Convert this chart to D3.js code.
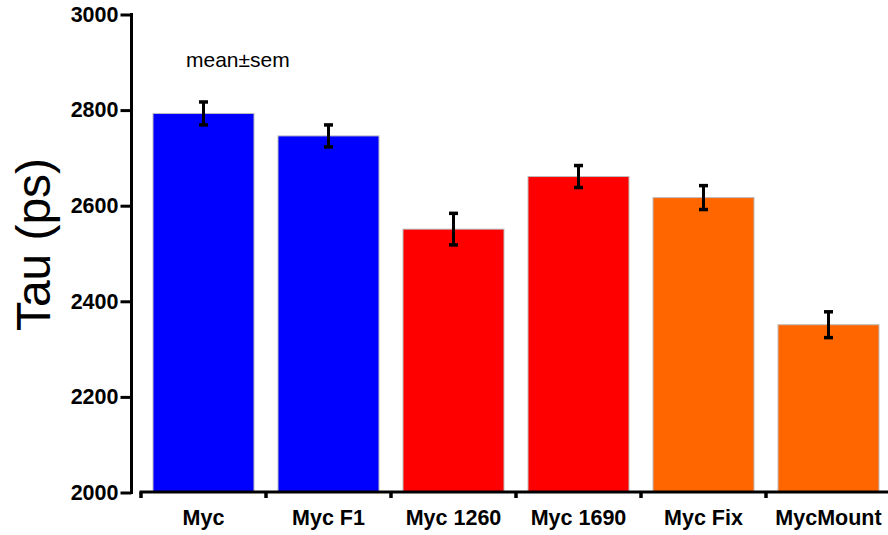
<!DOCTYPE html>
<html>
<head>
<meta charset="utf-8">
<script src="https://cdn.jsdelivr.net/npm/d3@7"></script>
<style>
  html, body { margin: 0; padding: 0; background: #fff; }
  svg { display: block; }
  text { font-family: "Liberation Sans", Arial, sans-serif; }
</style>
</head>
<body>
<svg id="chart" width="888" height="535"></svg>
<script>
const categories = ["Myc", "Myc F1", "Myc 1260", "Myc 1690", "Myc Fix", "MycMount"];
const means = [2793, 2746, 2551, 2661, 2617, 2351];
const sems = [24, 23, 33, 23, 25, 27];
const colors = ["#0000ff", "#0000ff", "#ff0000", "#ff0000", "#ff6600", "#ff6600"];
const yTicks = [2000, 2200, 2400, 2600, 2800, 3000];
const yLabel = "Tau (ps)";
const note = "mean\u00b1sem";

const svg = d3.select("#chart");

const y = d3.scaleLinear().domain([2000, 3000]).range([492.5, 14.5]);
const x = d3.scaleBand().domain(categories).range([141, 891])
  .paddingInner(0.192).paddingOuter(0.096);

// bars
svg.append("g").selectAll("rect").data(categories).join("rect")
  .attr("x", d => x(d))
  .attr("width", x.bandwidth())
  .attr("y", (d, i) => y(means[i]))
  .attr("height", (d, i) => y(2000) - y(means[i]))
  .attr("fill", (d, i) => colors[i])
  .attr("stroke", "#bdbdbd")
  .attr("stroke-width", 1);

// error bars
const eb = svg.append("g").attr("stroke", "#000").attr("stroke-width", 3);
categories.forEach((c, i) => {
  const cx = x(c) + x.bandwidth() / 2;
  eb.append("line").attr("x1", cx).attr("x2", cx)
    .attr("y1", y(means[i] + sems[i])).attr("y2", y(means[i] - sems[i]));
  [means[i] + sems[i], means[i] - sems[i]].forEach(v => {
    eb.append("line").attr("x1", cx - 4.5).attr("x2", cx + 4.5)
      .attr("y1", y(v)).attr("y2", y(v)).attr("stroke-width", 3.5);
  });
});

// y axis
const yAxis = d3.axisLeft(y).tickValues(yTicks).tickSize(11).tickSizeOuter(0).tickPadding(2)
  .tickFormat(d3.format("d"));
const gy = svg.append("g").attr("transform", "translate(131.5,0)").call(yAxis);
gy.select(".domain").attr("stroke-width", 3).attr("d", `M0,${y(3000) - 1.5}V${y(2000) + 1.5}`);
gy.selectAll(".tick line").attr("stroke-width", 3);
gy.selectAll(".tick text").attr("font-size", 21.5).attr("font-weight", "bold")
  .attr("font-family", "Liberation Sans, Arial, sans-serif").attr("fill", "#000");

// x axis
const gx = svg.append("g").attr("transform", "translate(0,492)");
gx.append("line").attr("x1", 139.5).attr("x2", 893).attr("y1", 0).attr("y2", 0)
  .attr("stroke", "#000").attr("stroke-width", 3);
const boundaries = d3.range(categories.length + 1).map(i => x.range()[0] + i * x.step());
gx.selectAll("line.tk").data(boundaries).join("line").attr("class", "tk")
  .attr("x1", d => d).attr("x2", d => d).attr("y1", 0).attr("y2", 6)
  .attr("stroke", "#000").attr("stroke-width", 3.5);
gx.selectAll("text").data(categories).join("text")
  .attr("x", d => x(d) + x.bandwidth() / 2)
  .attr("y", 33)
  .attr("text-anchor", "middle")
  .attr("font-size", 21.5).attr("font-weight", "bold")
  .text(d => d);

// y label
svg.append("text")
  .attr("transform", "translate(50,331) rotate(-90)")
  .attr("text-anchor", "start")
  .attr("font-size", 48)
  .attr("textLength", 173)
  .attr("lengthAdjust", "spacingAndGlyphs")
  .text(yLabel);

// note
svg.append("text").attr("x", 186).attr("y", 67)
  .attr("font-size", 21).text(note);
</script>
</body>
</html>
